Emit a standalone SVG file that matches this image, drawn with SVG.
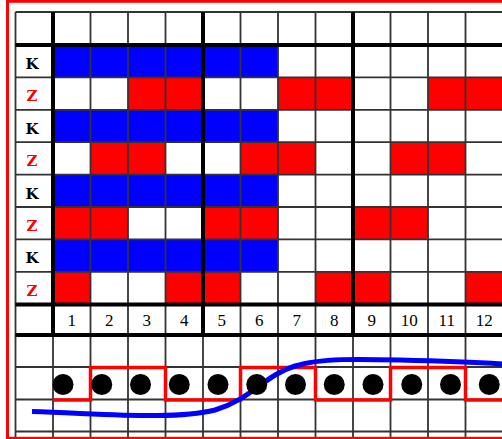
<svg xmlns="http://www.w3.org/2000/svg" width="502" height="439" viewBox="0 0 502 439">
<style>
.b{fill:#0000ff}
.r{fill:#ff0000}
.thin{stroke:#333;stroke-width:1.8;fill:none}
.thick{stroke:#000;stroke-width:4;fill:none}
.lab{font-family:"DejaVu Serif","Liberation Serif",serif;font-weight:bold;font-size:15px;text-anchor:middle}
.num{font-family:"Liberation Serif","DejaVu Serif",serif;font-size:17px;text-anchor:middle;fill:#000}
</style>
<rect x="0" y="0" width="502" height="439" fill="#fff"/>
<g id="cells">
<rect class="b" x="53" y="45" width="225" height="32.4"/>
<rect class="b" x="53" y="109.8" width="225" height="32.4"/>
<rect class="b" x="53" y="174.6" width="225" height="32.4"/>
<rect class="b" x="53" y="239.4" width="225" height="32.4"/>
<rect class="r" x="128" y="77.4" width="75" height="32.4"/>
<rect class="r" x="278" y="77.4" width="75" height="32.4"/>
<rect class="r" x="428" y="77.4" width="75" height="32.4"/>
<rect class="r" x="90.5" y="142.2" width="75" height="32.4"/>
<rect class="r" x="240.5" y="142.2" width="75" height="32.4"/>
<rect class="r" x="390.5" y="142.2" width="75" height="32.4"/>
<rect class="r" x="53" y="207" width="75" height="32.4"/>
<rect class="r" x="203" y="207" width="75" height="32.4"/>
<rect class="r" x="353" y="207" width="75" height="32.4"/>
<rect class="r" x="53" y="271.8" width="37.5" height="32.4"/>
<rect class="r" x="165.5" y="271.8" width="75" height="32.4"/>
<rect class="r" x="315.5" y="271.8" width="75" height="32.4"/>
<rect class="r" x="465.5" y="271.8" width="37.5" height="32.4"/>
</g>
<g id="grid">
<path class="thin" d="M15.5,12V438 M90.5,12V438 M128,12V438 M165.5,12V438 M240.5,12V438 M278,12V438 M315.5,12V438 M390.5,12V438 M428,12V438 M465.5,12V438 M53,335V438 M203,335V438 M353,335V438"/>
<path class="thin" d="M15.5,12H502 M15.5,77.4H502 M15.5,109.8H502 M15.5,142.2H502 M15.5,174.6H502 M15.5,207H502 M15.5,239.4H502 M15.5,271.8H502 M15.5,367H502 M15.5,399.5H502 M15.5,431.5H502"/>
<path class="thick" d="M53,12V335 M203,12V335 M353,12V335 M15.5,45H502 M15.5,304.4H502 M15.5,335H502"/>
</g>
<g id="row-labels">
<text class="lab" x="32" y="69" fill="#000">K</text>
<text class="lab" x="32" y="101.4" fill="#ff0000">Z</text>
<text class="lab" x="32" y="133.8" fill="#000">K</text>
<text class="lab" x="32" y="166.2" fill="#ff0000">Z</text>
<text class="lab" x="32" y="198.6" fill="#000">K</text>
<text class="lab" x="32" y="231" fill="#ff0000">Z</text>
<text class="lab" x="32" y="263.4" fill="#000">K</text>
<text class="lab" x="32" y="295.8" fill="#ff0000">Z</text>
</g>
<g id="col-numbers">
<text class="num" x="71.75" y="326">1</text>
<text class="num" x="109.25" y="326">2</text>
<text class="num" x="146.75" y="326">3</text>
<text class="num" x="184.25" y="326">4</text>
<text class="num" x="221.75" y="326">5</text>
<text class="num" x="259.25" y="326">6</text>
<text class="num" x="296.75" y="326">7</text>
<text class="num" x="334.25" y="326">8</text>
<text class="num" x="371.75" y="326">9</text>
<text class="num" x="409.25" y="326">10</text>
<text class="num" x="446.75" y="326">11</text>
<text class="num" x="484.25" y="326">12</text>
</g>
<g id="connectors">
<path d="M53,400H90.5V367.5H165.5V400H240.5V367.5H315.5V400H390.5V367.5H465.5V400H503" fill="none" stroke="#ff0000" stroke-width="3.5"/>
<path d="M32,411.5C110,414 175,420 215,410C250,400 265,375 295,366C320,358 360,359 400,360C440,361 470,362 503,364" fill="none" stroke="#0000ff" stroke-width="5"/>
</g>
<g id="dots" fill="#000">
<circle cx="63" cy="384.5" r="10.5"/>
<circle cx="101.75" cy="384.5" r="10.5"/>
<circle cx="140.5" cy="384.5" r="10.5"/>
<circle cx="179.25" cy="384.5" r="10.5"/>
<circle cx="218" cy="384.5" r="10.5"/>
<circle cx="256.75" cy="384.5" r="10.5"/>
<circle cx="295.5" cy="384.5" r="10.5"/>
<circle cx="334.25" cy="384.5" r="10.5"/>
<circle cx="373" cy="384.5" r="10.5"/>
<circle cx="411.75" cy="384.5" r="10.5"/>
<circle cx="450.5" cy="384.5" r="10.5"/>
<circle cx="489.25" cy="384.5" r="10.5"/>
</g>
<rect x="7.5" y="1.3" width="510" height="437" fill="none" stroke="#ff0000" stroke-width="3"/>
</svg>
